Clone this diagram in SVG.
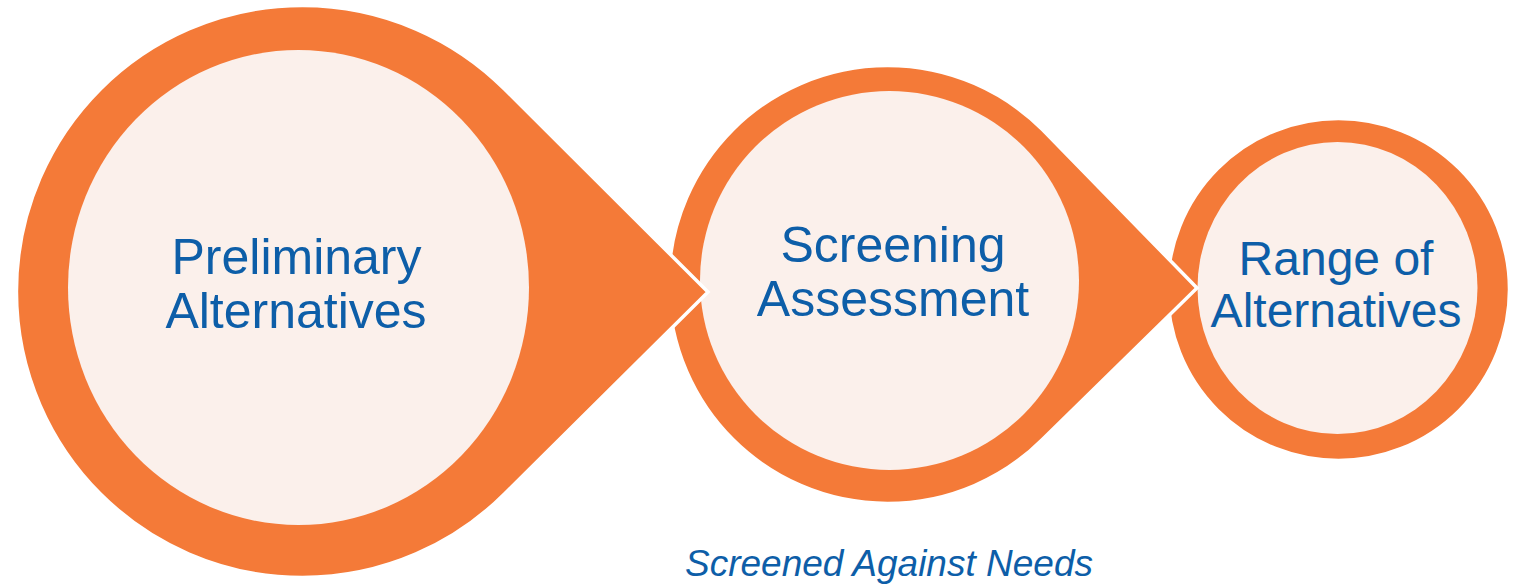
<svg xmlns="http://www.w3.org/2000/svg" width="1522" height="584" viewBox="0 0 1522 584">
<style>
.outer{fill:#F47A38;stroke:#FFFFFF;stroke-width:3.5;stroke-linejoin:miter}
.inner{fill:#FBF0EB}
.lbl{font-family:"Liberation Sans",Arial,sans-serif;fill:#0D5EA8;text-anchor:middle}
.cap{font-family:"Liberation Sans",Arial,sans-serif;fill:#0D5EA8;text-anchor:middle;font-style:italic;font-size:37px}
</style>
<rect width="1522" height="584" fill="#FFFFFF"/>
<g id="node-range">
<circle class="outer" cx="1338.5" cy="289.5" r="171"/>
<ellipse class="inner" cx="1337.5" cy="288" rx="140" ry="146"/>
<text class="lbl" font-size="48" x="1336" y="275">Range of</text>
<text class="lbl" font-size="48" x="1336" y="327">Alternatives</text>
</g>
<g id="node-screening">
<path class="outer" d="M1197,288 L1042.4,129.6 A219,219 0 1 0 1042.4,439.4 Z"/>
<circle class="inner" cx="889.5" cy="280.5" r="189.5"/>
<text class="lbl" font-size="50" x="893" y="262">Screening</text>
<text class="lbl" font-size="50" x="893" y="316">Assessment</text>
</g>
<g id="node-preliminary">
<path class="outer" d="M708,292 L504.7,89.3 A286,286 0 1 0 504.7,493.7 Z"/>
<ellipse class="inner" cx="298.5" cy="287.5" rx="230.5" ry="237.5"/>
<text class="lbl" font-size="50" x="296.5" y="274">Preliminary</text>
<text class="lbl" font-size="50" x="296" y="328">Alternatives</text>
</g>
<g id="connectors"></g>
<text class="cap" x="889" y="576">Screened Against Needs</text>
</svg>
